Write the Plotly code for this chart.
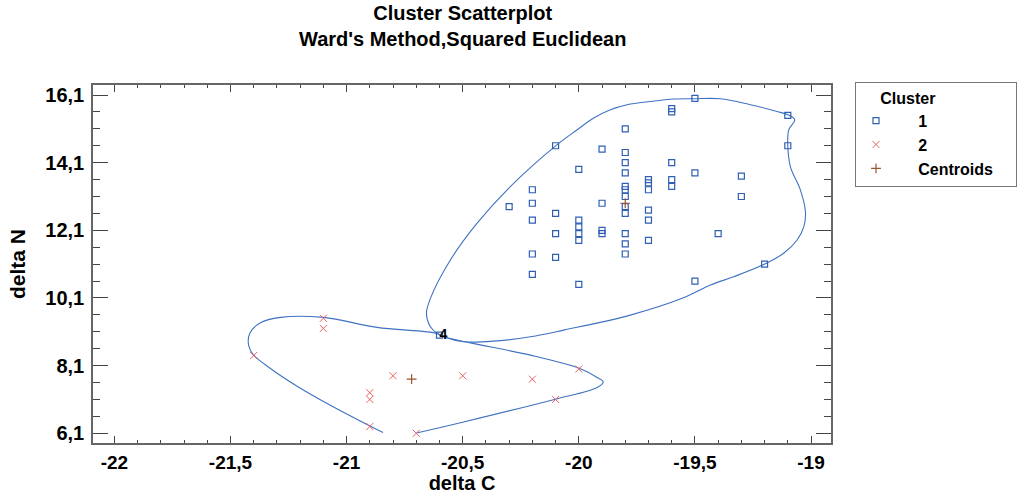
import plotly.graph_objects as go

# ---- Data ----
# Cluster 1 observations (delta C, delta N)
c1_x = [-20.3,
        -20.2, -20.2, -20.2, -20.2, -20.2,
        -20.1, -20.1, -20.1, -20.1,
        -20.0, -20.0, -20.0, -20.0, -20.0, -20.0,
        -19.9, -19.9, -19.9, -19.9,
        -19.8, -19.8, -19.8, -19.8, -19.8, -19.8, -19.8, -19.8, -19.8, -19.8, -19.8, -19.8,
        -19.7, -19.7, -19.7, -19.7, -19.7, -19.7,
        -19.6, -19.6, -19.6, -19.6, -19.6,
        -19.5, -19.5, -19.5,
        -19.4,
        -19.3, -19.3,
        -19.2,
        -19.1, -19.1,
        -20.6]
c1_y = [12.8,
        13.3, 12.9, 12.4, 11.4, 10.8,
        14.6, 12.6, 12.0, 11.3,
        13.9, 12.4, 12.2, 12.0, 11.8, 10.5,
        14.5, 12.9, 12.1, 12.0,
        15.1, 14.4, 14.1, 13.8, 13.4, 13.3, 13.1, 12.8, 12.6, 12.0, 11.7, 11.4,
        13.6, 13.5, 13.3, 12.7, 12.4, 11.8,
        15.7, 15.6, 14.1, 13.6, 13.4,
        16.0, 13.8, 10.6,
        12.0,
        13.7, 13.1,
        11.1,
        15.5, 14.6,
        9.0]

# Cluster 2 observations
c2_x = [-21.1, -21.1, -21.4, -20.8, -20.5, -20.2, -20.0, -20.9, -20.9, -20.1, -20.9, -20.7]
c2_y = [9.5, 9.2, 8.4, 7.8, 7.8, 7.7, 8.0, 7.3, 7.1, 7.1, 6.3, 6.1]

# Centroids
cen_x = [-19.8, -20.72]
cen_y = [12.9, 7.70]

# Labelled point
lab_x = [-20.6]
lab_y = [9.0]
lab_text = ["4"]

# Cluster outline curves (data units)
b1_x = [-20.639, -20.553, -20.438, -20.295, -20.101, -20.007, -19.936, -19.864, -19.792,
        -19.692, -19.591, -19.502, -19.39, -19.261, -19.146, -19.10, -19.07, -19.096,
        -19.10, -19.089, -19.046, -19.024, -19.031, -19.06, -19.118, -19.199, -19.333,
        -19.433, -19.555, -19.778, -20.065, -20.208, -20.352, -20.496, -20.582, -20.61,
        -20.639, -20.656, -20.639]
b1_y = [10.089, 11.223, 12.31, 13.393, 14.59, 15.072, 15.419, 15.665, 15.813,
        15.91, 15.982, 15.99, 15.99, 15.813, 15.614, 15.517, 15.369, 15.072,
        14.59, 13.986, 13.296, 12.653, 12.209, 11.815, 11.421, 11.104, 10.728,
        10.483, 10.089, 9.594, 9.15, 8.952, 8.833, 8.804, 8.952, 9.052,
        9.248, 9.645, 10.089]

b2_x = [-20.699, -20.496, -20.101, -19.921, -19.895, -19.921, -19.996, -20.208, -20.467,
        -20.582, -20.61, -20.869, -21.099, -21.285, -21.371, -21.417, -21.422, -21.403,
        -21.328, -21.213, -21.07, -20.897, -20.843]
b2_y = [6.109, 6.435, 7.107, 7.453, 7.619, 7.749, 8.016, 8.41, 8.774,
        8.952, 9.052, 9.23, 9.526, 9.526, 9.366, 9.052, 8.706, 8.431,
        8.016, 7.492, 6.929, 6.307, 6.121]

# Axis ticks
x_ticks = [-22, -21.5, -21, -20.5, -20, -19.5, -19]
x_tick_text = ["-22", "-21,5", "-21", "-20,5", "-20", "-19,5", "-19"]
y_ticks = [6.1, 8.1, 10.1, 12.1, 14.1, 16.1]
y_tick_text = ["6,1", "8,1", "10,1", "12,1", "14,1", "16,1"]

title_lines = ["Cluster Scatterplot", "Ward's Method,Squared Euclidean"]

FONT = "Liberation Sans, Arial, sans-serif"
CURVE = "#3f72c2"
BLUE = "#2f5fb3"
RED = "#eb6166"
BROWN = "#9a5530"
NB = "\u00a0"

fig = go.Figure()

fig.add_trace(go.Scatter(x=b1_x, y=b1_y, mode="lines", showlegend=False,
                         line=dict(color=CURVE, width=1.1, shape="spline", smoothing=1.0),
                         hoverinfo="skip"))
fig.add_trace(go.Scatter(x=b2_x, y=b2_y, mode="lines", showlegend=False,
                         line=dict(color=CURVE, width=1.1, shape="spline", smoothing=1.0),
                         hoverinfo="skip"))

fig.add_trace(go.Scatter(x=c1_x, y=c1_y, mode="markers", name=NB * 5 + "1",
                         marker=dict(symbol="square-open", size=6, color=BLUE,
                                     line=dict(width=1.2, color=BLUE))))
fig.add_trace(go.Scatter(x=c2_x, y=c2_y, mode="markers", name=NB * 5 + "2",
                         marker=dict(symbol="x-thin-open", size=7, color=RED,
                                     line=dict(width=1, color=RED))))
fig.add_trace(go.Scatter(x=cen_x, y=cen_y, mode="markers", name=NB * 5 + "Centroids" + NB * 4,
                         marker=dict(symbol="cross-thin-open", size=7, color=BROWN,
                                     line=dict(width=1.2, color=BROWN))))

fig.add_trace(go.Scatter(x=lab_x, y=lab_y, mode="text", text=lab_text, showlegend=False,
                         textposition="middle right",
                         textfont=dict(family=FONT, size=14, color="black", weight="bold"),
                         hoverinfo="skip"))

minor_x = [round(-22 + 0.1 * i, 1) for i in range(31)]
minor_y = [round(6.1 + 0.5 * i, 1) for i in range(21)]

fig.add_annotation(text="<br>".join(title_lines), xref="paper", yref="paper",
                   x=0.5, xanchor="center", y=1 + (85 - 0) / 358, yanchor="top",
                   showarrow=False, align="center",
                   font=dict(family=FONT, size=20, color="black", weight="bold"))

fig.update_layout(
    width=1017, height=494, autosize=False,
    margin=dict(l=93, r=186, t=85, b=51),
    paper_bgcolor="white", plot_bgcolor="white",
    font=dict(family=FONT, size=16, color="black"),
    legend=dict(xref="container", yref="container",
                x=855 / 1017, xanchor="left", y=1 - 82 / 494, yanchor="top",
                bordercolor="#777777", borderwidth=1, bgcolor="white",
                font=dict(family=FONT, size=16, color="black", weight="bold"),
                title=dict(text=NB * 5 + "Cluster",
                           font=dict(family=FONT, size=16, color="black", weight="bold")),
                itemsizing="trace", tracegroupgap=0),
    xaxis=dict(range=[-22.092, -18.914], tickmode="array", tickvals=x_ticks,
               ticktext=x_tick_text, ticks="inside", ticklen=7, tickwidth=1,
               tickcolor="#444", showline=True, linecolor="#666", linewidth=1.5,
               mirror="ticks", showgrid=False, zeroline=False, automargin=False,
               tickfont=dict(family=FONT, size=19, color="black", weight="bold"),
               ticklabelstandoff=1,
               minor=dict(tickmode="array", tickvals=minor_x, ticks="inside",
                          ticklen=3, tickcolor="#444", tickwidth=1, showgrid=False),
               title=dict(text="delta C", standoff=4,
                          font=dict(family=FONT, size=20, color="black", weight="bold"))),
    yaxis=dict(range=[5.813, 16.396], tickmode="array", tickvals=y_ticks,
               ticktext=y_tick_text, ticks="inside", ticklen=15, tickwidth=1,
               tickcolor="#444", showline=True, linecolor="#666", linewidth=1.5,
               mirror="ticks", showgrid=False, zeroline=False, automargin=False,
               tickfont=dict(family=FONT, size=20, color="black", weight="bold"),
               ticklabelstandoff=3,
               minor=dict(tickmode="array", tickvals=minor_y, ticks="inside",
                          ticklen=7, tickcolor="#444", tickwidth=1, showgrid=False),
               title=dict(text="delta N", standoff=14,
                          font=dict(family=FONT, size=21, color="black", weight="bold"))),
)

fig.write_html("out.html")
